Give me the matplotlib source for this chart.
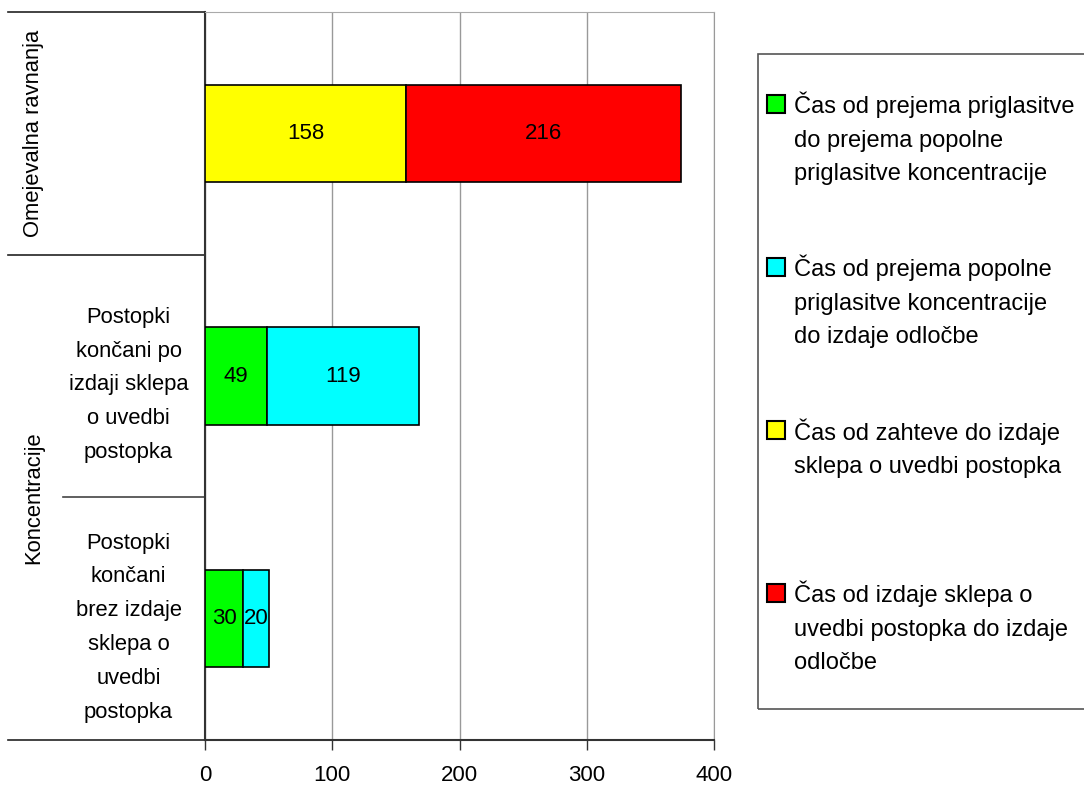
import matplotlib
matplotlib.use("Agg")
import matplotlib.pyplot as plt
from matplotlib.patches import Rectangle
from matplotlib.transforms import blended_transform_factory

plt.rcParams['font.family'] = ['Liberation Sans', 'DejaVu Sans']

# ---------------- data ----------------
categories = ["",
              "Postopki\nkončani po\nizdaji sklepa\no uvedbi\npostopka",
              "Postopki\nkončani\nbrez izdaje\nsklepa o\nuvedbi\npostopka"]
groups = ["Omejevalna ravnanja", "Koncentracije"]
group_spans = [(0, 0), (1, 2)]   # first and last category of each group

series_names = ["Čas od prejema priglasitve\ndo prejema popolne\npriglasitve koncentracije",
                "Čas od prejema popolne\npriglasitve koncentracije\ndo izdaje odločbe",
                "Čas od zahteve do izdaje\nsklepa o uvedbi postopka",
                "Čas od izdaje sklepa o\nuvedbi postopka do izdaje\nodločbe"]
green = [0, 49, 30]
cyan = [0, 119, 20]
yellow = [158, 0, 0]
red = [216, 0, 0]
series = [green, cyan, yellow, red]
colors = ["#00ff00", "#00ffff", "#ffff00", "#ff0000"]
xticks = [0, 100, 200, 300, 400]

FS = 15.8      # category labels
FS_NUM = 16    # numbers
FS_LEG = 17    # legend
LINE_PX = 33   # line pitch in pixels
PX_PER_PT = 1.16


def ls_for(fs):
    return LINE_PX / (PX_PER_PT * fs)


# ---------------- figure ----------------
fig = plt.figure(figsize=(10.84, 7.89), dpi=100)
ax = fig.add_axes([205 / 1084, 1 - 740 / 789, 509 / 1084, 728 / 789])

left = [0] * len(categories)
for vals, col in zip(series, colors):
    idx = [i for i, v in enumerate(vals) if v > 0]
    bars = ax.barh(idx, [vals[i] for i in idx], left=[left[i] for i in idx],
                   height=0.4, color=col, edgecolor='black', linewidth=1.2, zorder=3)
    ax.bar_label(bars, label_type='center', fontsize=FS_NUM)
    left = [l + v for l, v in zip(left, vals)]

ax.set_xlim(xticks[0], xticks[-1])
ax.set_ylim(len(categories) - 0.5, -0.5)
ax.set_xticks(xticks)
ax.tick_params(axis='x', labelsize=FS_NUM, length=7, width=1, color='#333333', pad=11)
ax.grid(axis='x', color='#999999', linewidth=1)
ax.set_axisbelow(True)

ax.set_yticks(range(len(categories)))
ax.set_yticklabels(categories, fontsize=FS, ha='center', multialignment='center')
for t in ax.get_yticklabels():
    t.set_linespacing(ls_for(FS))
ax.tick_params(axis='y', length=0, pad=55)

for s in ['left', 'bottom']:
    ax.spines[s].set_color('#333333')
    ax.spines[s].set_linewidth(1.5)
ax.spines['top'].set_color('#aaaaaa')
ax.spines['right'].set_color('#999999')

# separator lines for the category/group table on the left
tr = blended_transform_factory(ax.transAxes, ax.transData)
x_outer = (8 - 205) / 509
x_inner = (63 - 205) / 509
for gi, (a, b) in enumerate(group_spans):
    ax.plot([x_outer, 0], [a - 0.5, a - 0.5], color='#222222', lw=1.2,
            transform=tr, clip_on=False)
    for c in range(a + 1, b + 1):
        ax.plot([x_inner, 0], [c - 0.5, c - 0.5], color='#444444', lw=1.2,
                transform=tr, clip_on=False)
    ax.text((34 - 205) / 509, (a + b) / 2, groups[gi], rotation=90, fontsize=FS,
            ha='center', va='center', transform=tr)
ax.plot([x_outer, 0], [len(categories) - 0.5] * 2, color='#222222', lw=1.2,
        transform=tr, clip_on=False)

# legend drawn as a box with swatches
fig.patches.append(Rectangle((758 / 1084, 1 - 709 / 789), 340 / 1084, 655 / 789,
                             transform=fig.transFigure, facecolor='none',
                             edgecolor='#555555', linewidth=1.2))
for k, (name, col) in enumerate(zip(series_names, colors)):
    base = 114 + 163 * k
    nlines = name.count("\n") + 1
    fig.patches.append(Rectangle((767 / 1084, 1 - (base - 1) / 789), 18 / 1084, 18 / 789,
                                 transform=fig.transFigure, facecolor=col,
                                 edgecolor='black', linewidth=1.5))
    fig.text(794 / 1084, 1 - (base + LINE_PX * (nlines - 1)) / 789, name,
             fontsize=FS_LEG, ha='left', va='baseline', linespacing=ls_for(FS_LEG))

fig.savefig("out.png", dpi=100)
